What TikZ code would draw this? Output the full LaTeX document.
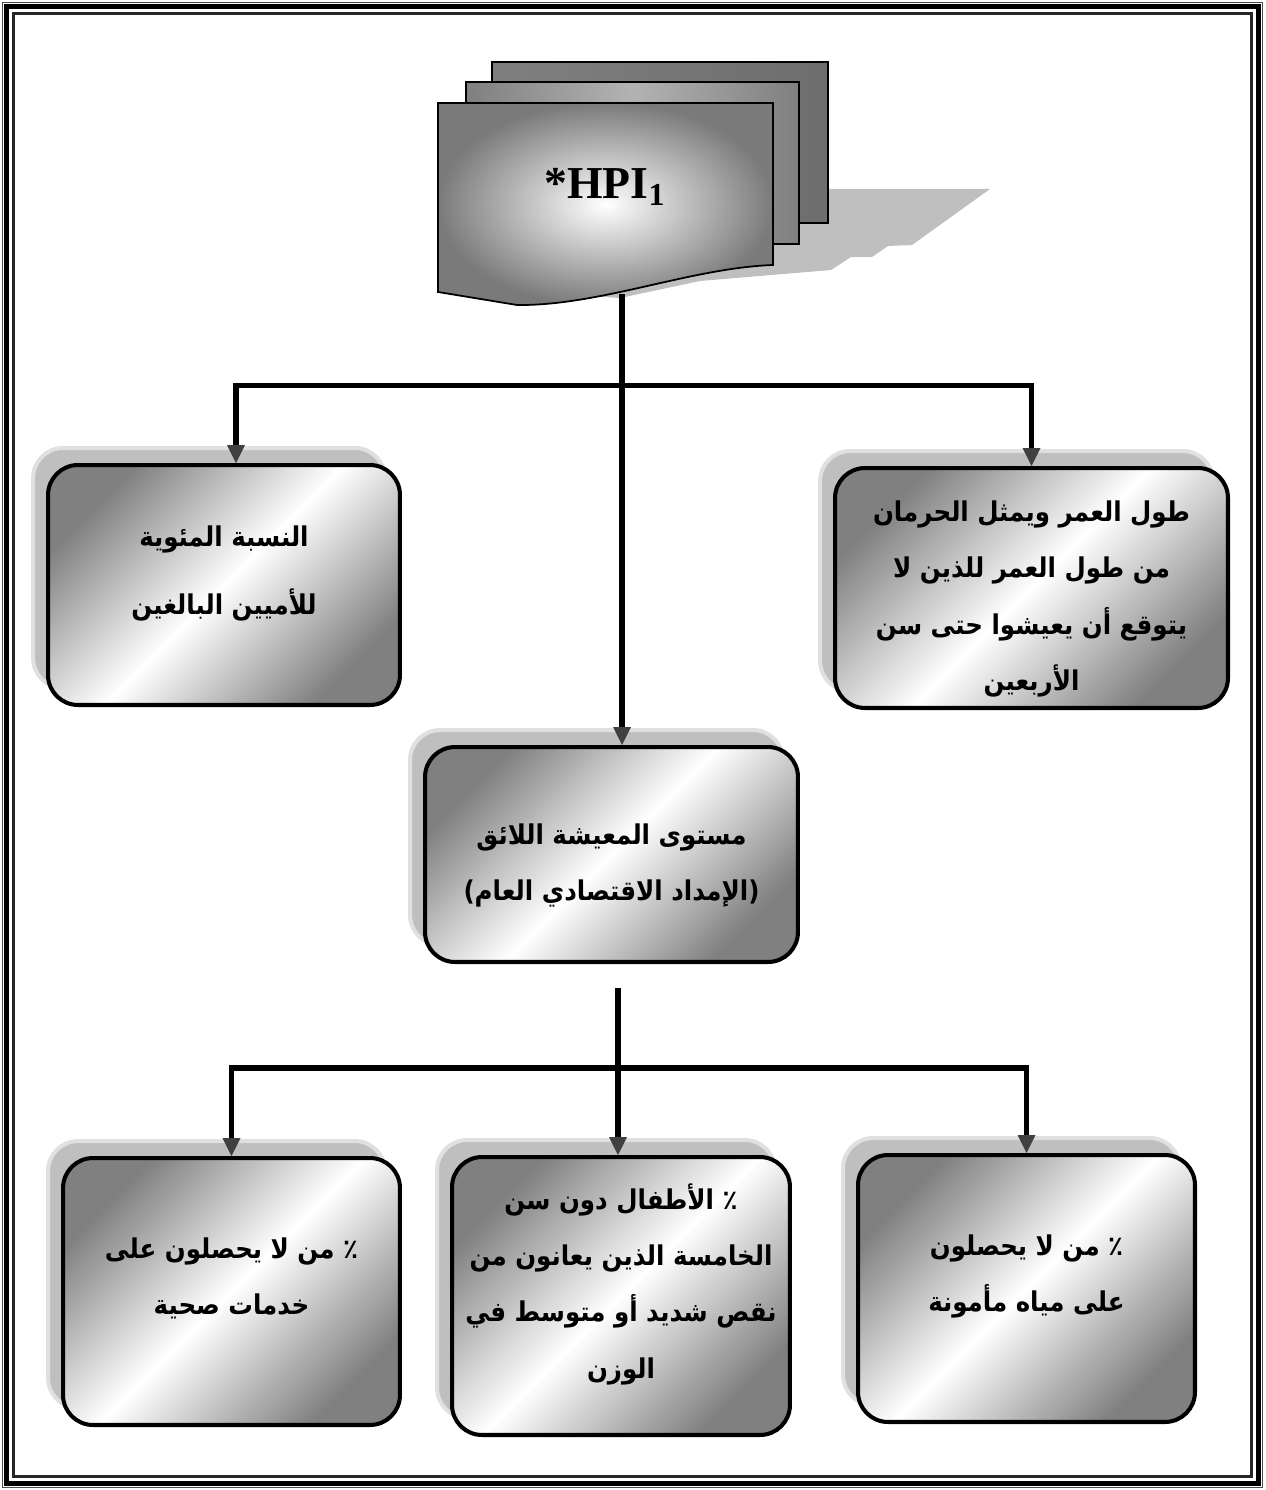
\documentclass[tikz,border=0pt]{standalone}
\usepackage{fontspec}
\setmainfont{Liberation Serif}
\newfontfamily\arabicfont[Script=Arabic]{DejaVu Sans Condensed}
\TeXXeTstate=1
\usetikzlibrary{arrows.meta,shadows}
\newcommand{\arline}[1]{\beginR #1\endR}
\newcommand{\lowpad}{\rule[-0.6cm]{0pt}{0.6cm}}
\newcommand{\toppad}{\rule{0pt}{0.85cm}}
\tikzset{
  box/.style={draw, line width=2.3pt, rounded corners=0.6cm, inner sep=0pt, align=center,
    left color=black!50, right color=black!50, middle color=white, shading angle=45,
    drop shadow={shadow xshift=-0.3cm, shadow yshift=0.34cm, fill=black!25, draw=black!12, opacity=1},
    font=\arabicfont\bfseries\fontsize{15.5}{32}\selectfont},
  link/.style={line width=3.1pt},
  tip/.style={-{Triangle[width=0.36cm,length=0.36cm,line width=0pt,fill=black!75,color=black!75]}},
  sheet/.style={draw, line width=1pt}
}
\begin{document}
\begin{tikzpicture}[x=0.02cm, y=-0.02cm]
\useasboundingbox (0,0) rectangle (1265,1490);
\draw[line width=0.6pt, black!70] (2.5,2.5) rectangle (1262.5,1487.5);
\draw[line width=2.9pt] (6.5,6.5) rectangle (1258.5,1483.5);
\draw[line width=1.3pt, black!85] (13.5,13.5) rectangle (1251.5,1476.5);

% document stack
\fill[black!25] (828,189) -- (990,189) -- (912,245) -- (888,246) -- (872,257) -- (851,257)
  -- (831,270) -- (700,281) -- (620,298) -- (590,296) -- (600,200) -- (828,150) -- cycle;
\draw[sheet, left color=black!50, right color=black!57] (492,62) rectangle (828,223);
\draw[sheet, left color=black!50, right color=black!50, middle color=black!30] (466,82) rectangle (799,244);
\draw[sheet, inner color=white, outer color=black!52] (438,103) -- (773,103) -- (773,265)
  .. controls (690,268) and (600,306) .. (517,305) -- (438,292) -- cycle;
\node (hpi) at (605,187) {\fontsize{26}{30}\selectfont\bfseries *HPI\textsubscript{1}};
\coordinate (docbot) at (622,294);

% boxes
\node[box, minimum width=7.04cm, minimum height=4.8cm] (litbox) at (224,585)
  {\arline{النسبة المئوية}\\[7pt]\arline{للأميين البالغين}\lowpad};
\node[box, minimum width=7.86cm, minimum height=4.8cm] (lifebox) at (1031.5,588)
  {\arline{طول العمر ويمثل الحرمان}\toppad\\\arline{من طول العمر للذين لا}\\\arline{يتوقع أن يعيشوا حتى سن}\\\arline{الأربعين}};
\node[box, minimum width=7.46cm, minimum height=4.3cm] (livingbox) at (611.5,854.5)
  {\arline{مستوى المعيشة اللائق}\toppad\\\arline{(الإمداد الاقتصادي العام)}};
\node[box, minimum width=6.74cm, minimum height=5.34cm] (healthbox) at (231.5,1291.5)
  {\arline{٪ من لا يحصلون على}\\\arline{خدمات صحية}\lowpad};
\node[box, minimum width=6.76cm, minimum height=5.56cm] (childbox) at (621,1296)
  {\arline{٪ الأطفال دون سن}\\\arline{الخامسة الذين يعانون من}\\\arline{نقص شديد أو متوسط في}\\\arline{الوزن}\lowpad};
\node[box, minimum width=6.74cm, minimum height=5.34cm] (waterbox) at (1026.5,1288.5)
  {\arline{٪ من لا يحصلون}\\\arline{على مياه مأمونة}\lowpad};

% connectors
\coordinate (topfork) at (622,385.5);
\draw[link, tip] (docbot) -- (docbot |- livingbox.north);
\draw[link, tip] (topfork) -| ([xshift=0.24cm]litbox.north);
\draw[link, tip] (topfork) -| (lifebox.north);
\coordinate (lowtop) at (618,988);
\coordinate (lowfork) at (618,1068);
\draw[link, tip] (lowtop) -- (lowtop |- childbox.north);
\draw[link, tip] (lowfork) -| (healthbox.north);
\draw[link, tip] (lowfork) -| (waterbox.north);
\end{tikzpicture}
\end{document}
